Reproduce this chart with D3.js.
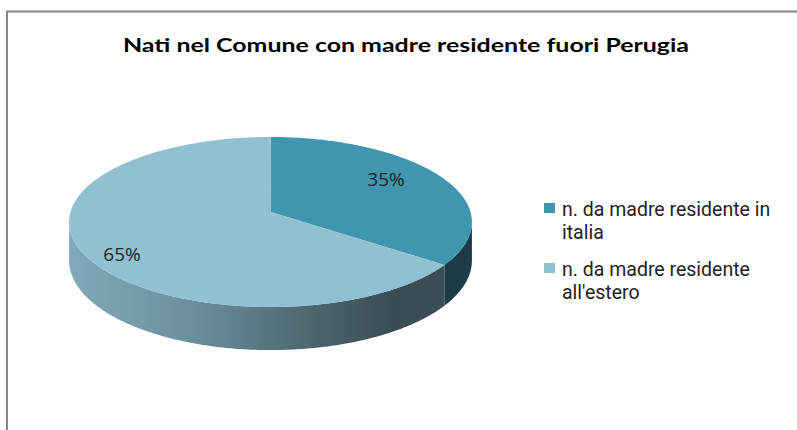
<!DOCTYPE html>
<html>
<head>
<meta charset="utf-8">
<script src="https://cdn.jsdelivr.net/npm/d3@7"></script>
<style>
  body { margin: 0; background: #fff; }
  svg { display: block; }
</style>
</head>
<body>
<svg id="pie-chart"></svg>
<script>
const width = 797, height = 430

const title = "Nati nel Comune con madre residente fuori Perugia"
const categories = ["n. da madre residente in italia", "n. da madre residente all'estero"]
const legendLines = [["n. da madre residente in", "italia"], ["n. da madre residente", "all'estero"]]
const values = [35, 65]
const valueLabels = ["35%", "65%"]

const topColors = ["#4096ae", "#91c0d2"]
const sideColors = ["#1c3d48", "url(#side-grad)"]

const svg = d3.select("svg#pie-chart")
    .attr("viewBox", [0, 0, width, height])
    .attr("width", width)
    .attr("height", height)

// chart frame (cut by the screenshot on the right and bottom)
svg.append("rect")
    .attr("x", 7).attr("y", 11.5)
    .attr("width", width + 20).attr("height", height + 20)
    .attr("fill", "none")
    .attr("stroke", "#868686")
    .attr("stroke-width", 2)

svg.append("text")
    .attr("x", 406).attr("y", 52)
    .attr("text-anchor", "middle")
    .attr("font-family", "Lato, sans-serif")
    .attr("font-weight", "bold")
    .attr("font-size", 19)
    .attr("textLength", 566)
    .attr("lengthAdjust", "spacingAndGlyphs")
    .attr("fill", "#000")
    .text(title)

// 3D pie geometry
const cx = 270.5, cy = 222, rx = 200, ry = 85, depth = 38, persp = -0.118

function project(angle, r = 1, drop = 0) {
    const u = r * Math.sin(angle), v = -r * Math.cos(angle)
    const w = 1 + persp * v
    return [cx + rx * u / w, cy + (ry * (v + persp) + drop) / w]
}

const arcs = d3.pie().sort(null).startAngle(0).endAngle(2 * Math.PI)(values)

// silhouette angles of the disc (left / right extremes)
const probe = d3.range(0, 2 * Math.PI, 0.001)
const rightA = d3.greatestIndex(probe, a => project(a)[0]) * 0.001
const leftA = d3.leastIndex(probe, a => project(a)[0]) * 0.001

const defs = svg.append("defs")
const grad = defs.append("linearGradient")
    .attr("id", "side-grad")
    .attr("gradientUnits", "userSpaceOnUse")
    .attr("x1", cx - rx).attr("x2", cx + rx)
    .attr("y1", 0).attr("y2", 0)
grad.selectAll("stop")
    .data([[0, "#82a9b9"], [0.3, "#6a909e"], [0.6, "#4d6670"], [0.8, "#3a4d55"], [1, "#3b4f57"]])
    .enter().append("stop")
    .attr("offset", d => d[0])
    .attr("stop-color", d => d[1])

function arcPoints(a0, a1, drop = 0) {
    const n = Math.max(2, Math.ceil((a1 - a0) / 0.01))
    return d3.range(n + 1).map(i => project(a0 + (a1 - a0) * i / n, 1, drop))
}

const line = d3.line()

// sides (only the front half of the rim is visible)
svg.append("g").classed("sides", true)
    .selectAll("path")
    .data(arcs)
    .enter()
    .append("path")
    .attr("d", d => {
        const a0 = Math.max(d.startAngle, rightA), a1 = Math.min(d.endAngle, leftA)
        if (a1 <= a0) return null
        const pts = arcPoints(a0, a1).concat(arcPoints(a0, a1, depth).reverse())
        return line(pts) + "Z"
    })
    .attr("fill", (d, i) => sideColors[i])

// top faces
svg.append("g").classed("tops", true)
    .selectAll("path")
    .data(arcs)
    .enter()
    .append("path")
    .attr("d", d => line([project(0, 0)].concat(arcPoints(d.startAngle, d.endAngle))) + "Z")
    .attr("fill", (d, i) => topColors[i])

// value labels
const labelPos = [[386, 186], [122, 261]]
svg.append("g").classed("labels", true)
    .selectAll("text")
    .data(valueLabels)
    .enter()
    .append("text")
    .attr("x", (d, i) => labelPos[i][0])
    .attr("y", (d, i) => labelPos[i][1])
    .attr("text-anchor", "middle")
    .attr("font-family", "'Open Sans', sans-serif")
    .attr("font-size", 19)
    .attr("fill", "#222")
    .text(d => d)

// legend
const legend = svg.append("g").classed("legend", true)
    .selectAll("g")
    .data(categories)
    .enter()
    .append("g")
    .attr("transform", (d, i) => `translate(544, ${203 + i * 60})`)

legend.append("rect")
    .attr("width", 11).attr("height", 10)
    .attr("fill", (d, i) => topColors[i])

legend.selectAll("text")
    .data((d, i) => legendLines[i])
    .enter()
    .append("text")
    .attr("font-family", "Roboto, sans-serif")
    .attr("font-size", 19.5)
    .attr("fill", "#222")
    .attr("x", 18)
    .attr("y", (d, j) => 12.5 + j * 23)
    .text(d => d)
</script>
</body>
</html>
